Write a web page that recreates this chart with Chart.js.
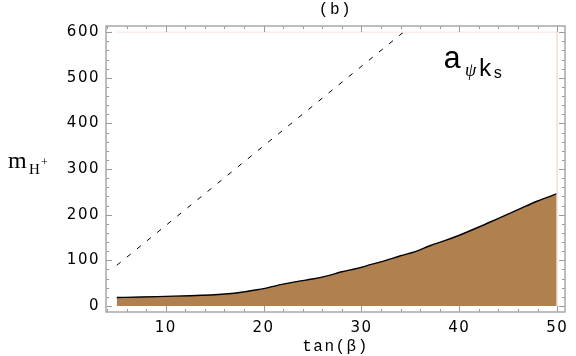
<!DOCTYPE html>
<html lang="en"><head><meta charset="utf-8"><title>(b) a_psiKs</title>
<script src="https://cdn.jsdelivr.net/npm/chart.js@4/dist/chart.umd.min.js"></script>
<style>
  html, body { margin: 0; padding: 0; background: #ffffff; }
  #wrap { width: 576px; height: 356px; }
</style></head>
<body>
<div id="wrap"><canvas id="c" width="576" height="356"></canvas></div>
<script>
// Excluded-region boundary (lower edge of the shaded area).
const tanBeta = [5, 7.5, 10, 12.5, 15, 17, 18, 19, 20, 21, 22, 23.5, 25, 26.5, 28, 29.5,
                 31, 32.5, 34, 35.5, 37, 38.5, 40, 42, 44, 46, 48, 50];
const mHBound = [18.5, 19.5, 21, 22.5, 24.5, 28, 31, 34.5, 38, 43, 48, 54, 59, 66, 75, 82,
                 91, 100, 110, 119, 132, 143, 155, 173, 192, 211, 230, 246];

// Dashed reference line.
const dashedX = [5, 34.3];
const dashedY = [89, 600];

// Faint plot-range edge (top and right of the region plot).
const edgeX = [5, 50, 50];
const edgeY = [600, 600, 0];

const xTickLabels = [10, 20, 30, 40, 50];
const yTickLabels = [0, 100, 200, 300, 400, 500, 600];

const pts = (xs, ys) => xs.map((x, i) => ({ x, y: ys[i] }));

const FRAME = '#a8a8a8';
const TICK = '#9a9a9a';

// Mathematica-style frame: grey box, ticks pointing inward on all four sides,
// plus the axis label and the in-plot annotation.
const framePlugin = {
  id: 'frame',
  beforeDraw(chart) {
    chart.ctx.letterSpacing = '1.5px';
  },
  afterDraw(chart) {
    const { ctx, chartArea: a, scales: { x, y } } = chart;
    ctx.save();
    ctx.strokeStyle = TICK;
    ctx.lineWidth = 1;
    ctx.beginPath();
    for (let v = 4; v <= 50; v += 2) {
      const px = Math.round(x.getPixelForValue(v)) + 0.5;
      const len = v % 10 === 0 ? 6 : 3;
      ctx.moveTo(px, a.bottom); ctx.lineTo(px, a.bottom - len);
      ctx.moveTo(px, a.top); ctx.lineTo(px, a.top + len);
    }
    for (let v = 0; v <= 600; v += 20) {
      const py = Math.round(y.getPixelForValue(v)) + 0.5;
      const len = v % 100 === 0 ? 6 : 3;
      ctx.moveTo(a.left, py); ctx.lineTo(a.left + len, py);
      ctx.moveTo(a.right, py); ctx.lineTo(a.right - len, py);
    }
    ctx.stroke();

    ctx.strokeStyle = FRAME;
    ctx.lineWidth = 1.5;
    ctx.strokeRect(a.left, a.top, a.right - a.left, a.bottom - a.top);

    ctx.letterSpacing = '0px';
    ctx.fillStyle = '#000';
    ctx.textBaseline = 'alphabetic';
    ctx.textAlign = 'left';
    // y label: m_{H+}
    ctx.font = '24px "Liberation Serif"';
    ctx.fillText('m', 8, 168);
    ctx.font = '15px "Liberation Serif"';
    ctx.fillText('H', 29, 174);
    ctx.font = '12px "Liberation Serif"';
    ctx.fillText('+', 41, 166);

    // annotation: a_{psi k_s}
    ctx.font = '31px "Liberation Mono"';
    ctx.fillText('a', 443, 68);
    ctx.font = 'italic 18px "Liberation Serif"';
    ctx.fillText('\u03c8', 465, 76);
    ctx.font = '24px "Liberation Mono"';
    ctx.fillText('k', 478, 76);
    ctx.font = '16px "Liberation Mono"';
    ctx.fillText('s', 493, 78);
    ctx.restore();
  },
};

new Chart(document.getElementById('c'), {
  type: 'line',
  data: {
    datasets: [
      {
        label: 'edge',
        data: pts(edgeX, edgeY),
        borderColor: '#f4e2da',
        borderWidth: 1,
        pointRadius: 0,
        fill: false,
        tension: 0,
      },
      {
        label: 'bound',
        data: pts(tanBeta, mHBound),
        borderColor: '#000000',
        borderWidth: 1.4,
        backgroundColor: '#b0804f',
        pointRadius: 0,
        fill: 'origin',
        cubicInterpolationMode: 'monotone',
      },
      {
        label: 'dashed',
        data: pts(dashedX, dashedY),
        borderColor: '#000000',
        borderWidth: 1,
        borderDash: [5, 8],
        pointRadius: 0,
        fill: false,
        tension: 0,
      },
    ],
  },
  options: {
    responsive: false, animation: false, devicePixelRatio: 1,
    layout: { padding: { left: 0, right: 11, top: 0, bottom: 0 } },
    plugins: {
      legend: { display: false },
      tooltip: { enabled: false },
      title: {
        display: true, text: '(b)', fullSize: false,
        color: '#000', font: { family: '"Liberation Mono"', size: 16, weight: 'normal', lineHeight: 1.2 },
        padding: { top: 0, bottom: 6.8 },
      },
    },
    scales: {
      x: {
        type: 'linear', min: 3.9, max: 50.8,
        grid: { display: false, drawTicks: false },
        border: { display: false },
        afterBuildTicks: s => { s.ticks = xTickLabels.map(v => ({ value: v })); },
        afterFit: s => { s.height = 44; },
        ticks: { color: '#000', padding: 7, maxRotation: 0, font: { family: '"DejaVu Sans"', size: 15 } },
        title: {
          display: true, text: 'tan(\u03b2)', color: '#000',
          font: { family: '"Liberation Mono"', size: 16, lineHeight: 1 },
          padding: { top: 0, bottom: 1 },
        },
      },
      y: {
        min: -13.2, max: 613.4,
        grid: { display: false, drawTicks: false },
        border: { display: false },
        afterBuildTicks: s => { s.ticks = yTickLabels.map(v => ({ value: v })); },
        afterFit: s => { s.width = 106; },
        ticks: { color: '#000', padding: 6, font: { family: '"DejaVu Sans"', size: 15 } },
      },
    },
  },
  plugins: [framePlugin],
});
</script>
</body></html>
